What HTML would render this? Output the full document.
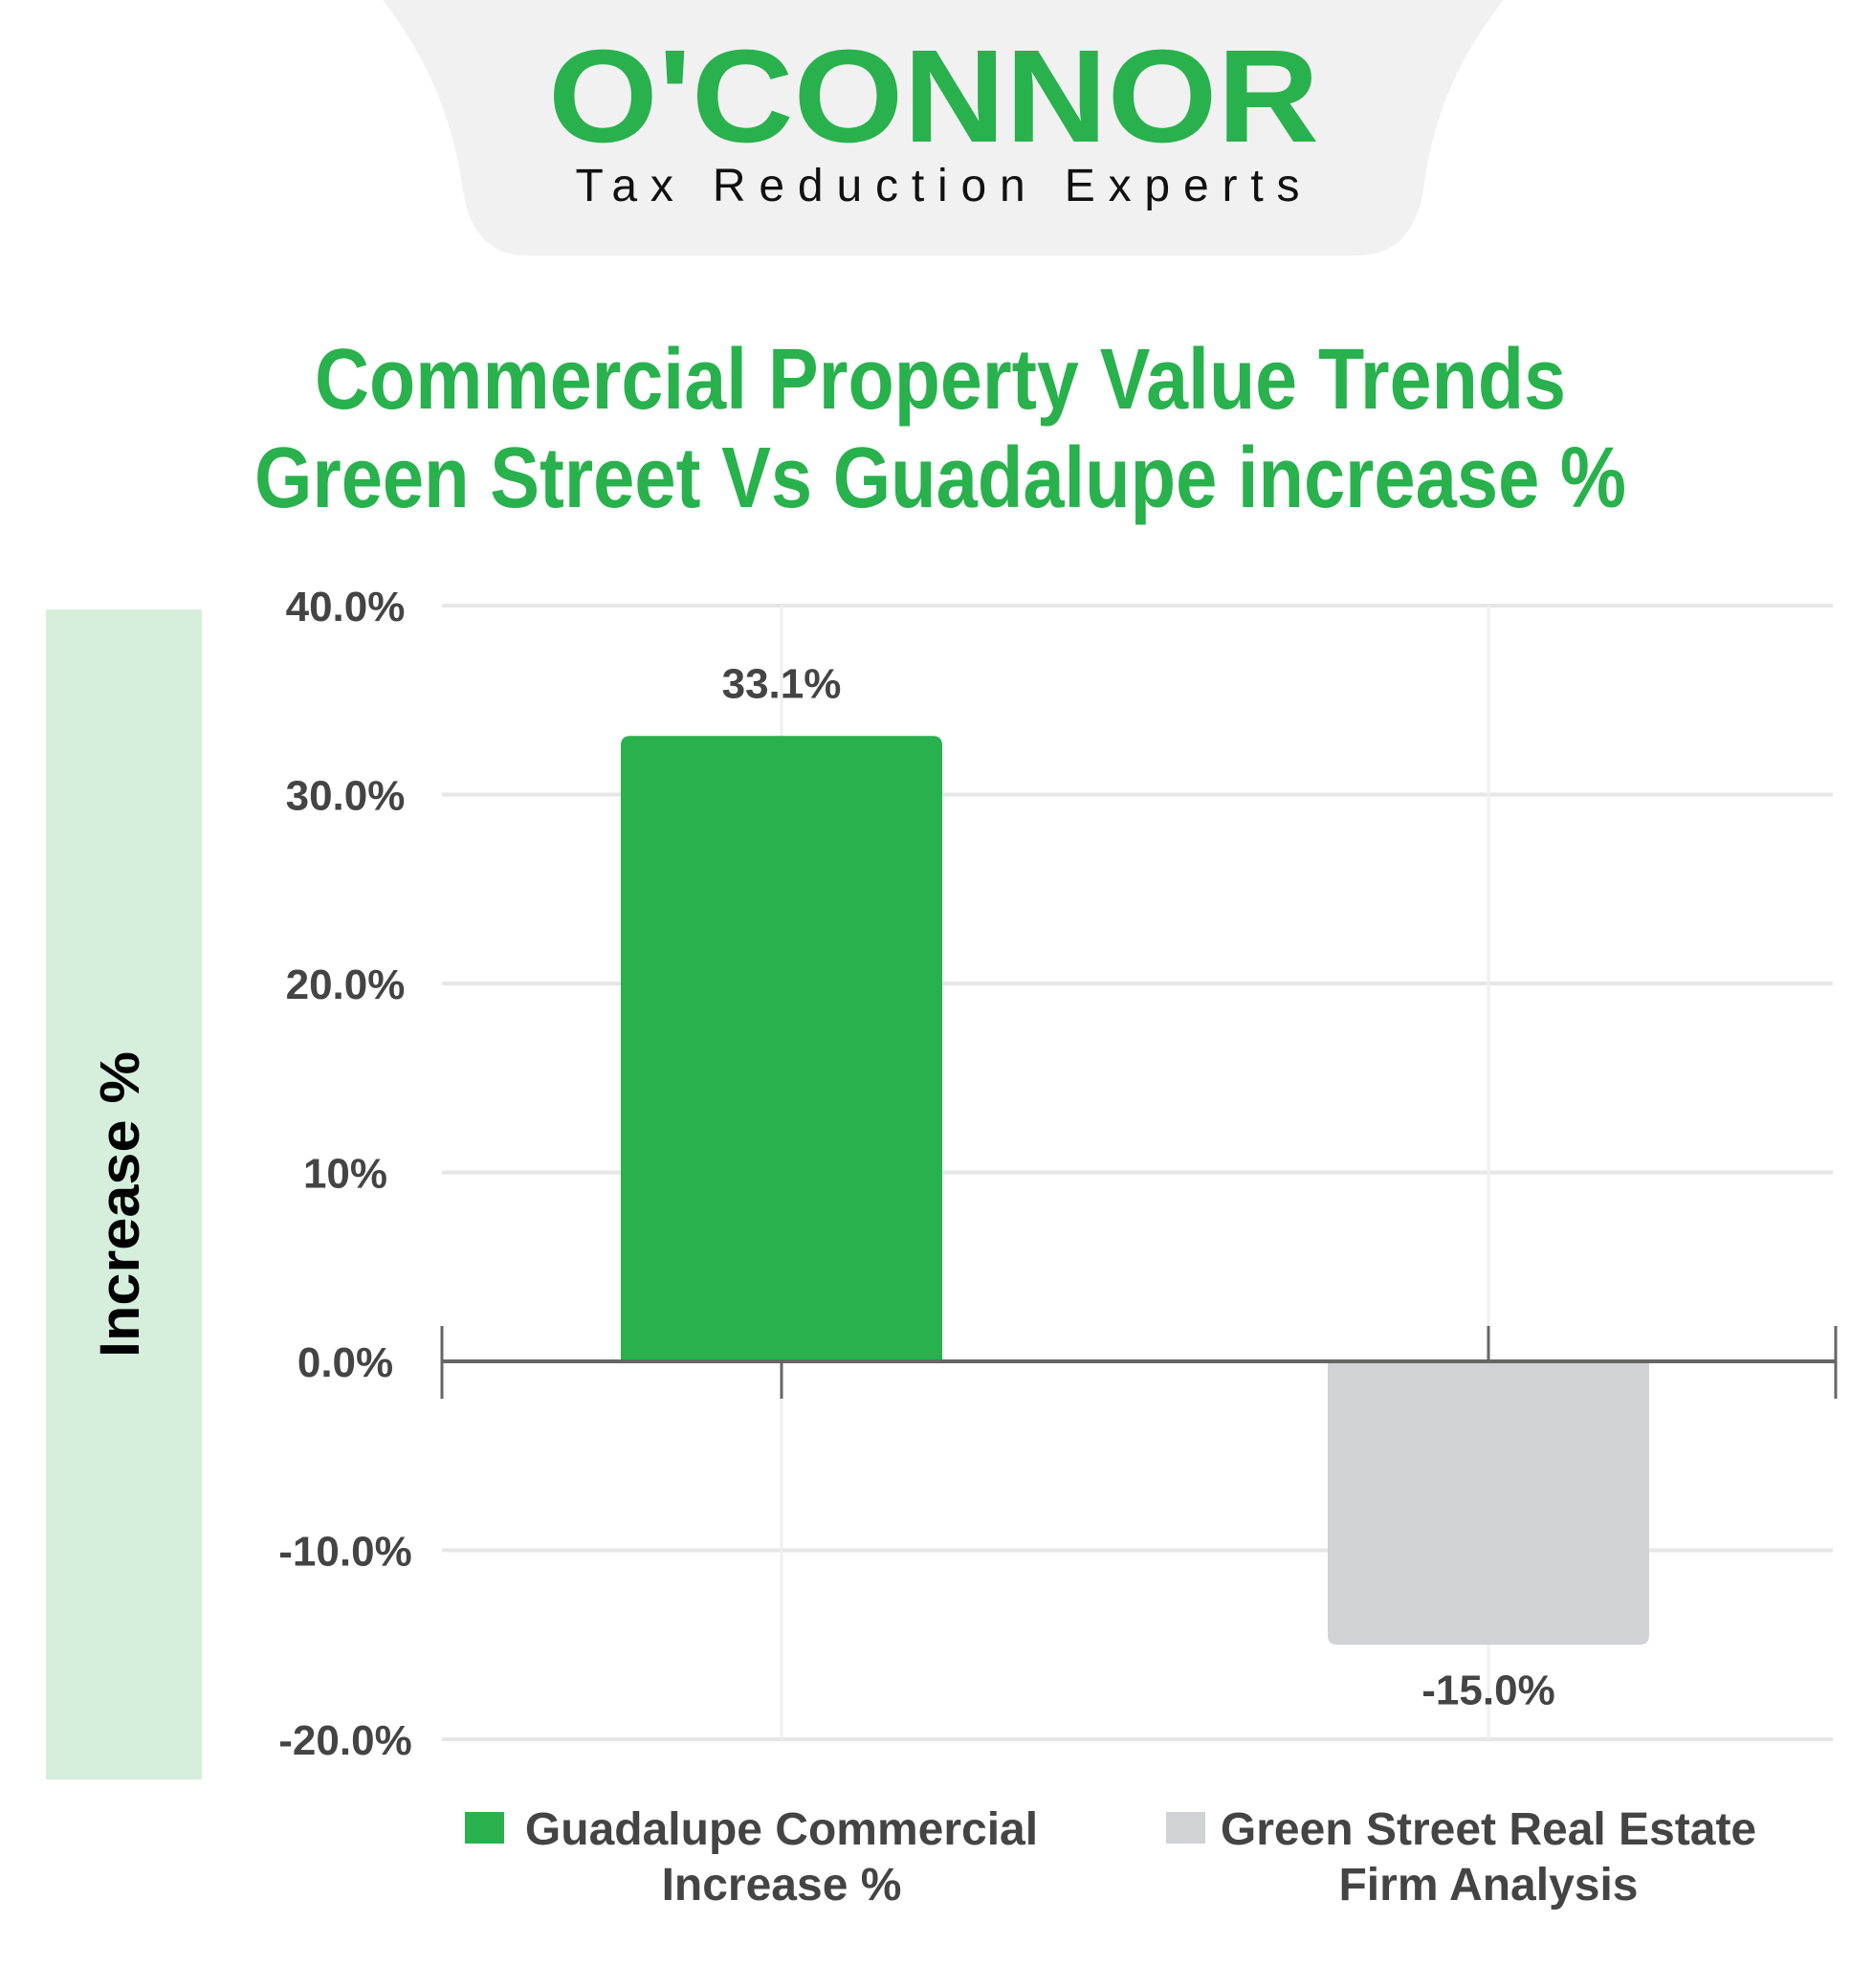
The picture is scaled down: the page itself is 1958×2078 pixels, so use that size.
<!DOCTYPE html>
<html><head><meta charset="utf-8"><style>
html,body{margin:0;padding:0;background:#fff;}
svg{display:block;}
text{font-family:"Liberation Sans",sans-serif;}
</style></head><body>
<svg id="chart" width="1958" height="2078" viewBox="0 0 1958 2078" xmlns="http://www.w3.org/2000/svg">
  <path d="M400 0 L1572 0 Q1500 90 1488 200 Q1475 267 1420 267 L550 267 Q495 267 484 200 Q470 90 400 0 Z" fill="#f1f1f1"/>
  <text x="976" y="148" text-anchor="middle" font-size="138" font-weight="bold" fill="#28b14c" textLength="806" lengthAdjust="spacingAndGlyphs">O'CONNOR</text>
  <text x="980" y="210" text-anchor="middle" font-size="48" fill="#111" textLength="757" lengthAdjust="spacing">Tax Reduction Experts</text>
  <text x="983" y="427" text-anchor="middle" font-size="90" font-weight="bold" fill="#28b14c" textLength="1308" lengthAdjust="spacingAndGlyphs">Commercial Property Value Trends</text>
  <text x="983" y="530" text-anchor="middle" font-size="90" font-weight="bold" fill="#28b14c" textLength="1434" lengthAdjust="spacingAndGlyphs">Green Street Vs Guadalupe increase %</text>
  <rect x="48" y="637" width="163" height="1223" fill="#d5efdc"/>
  <text transform="translate(145,1259) rotate(-90)" text-anchor="middle" font-size="58" font-weight="bold" fill="#000" textLength="320" lengthAdjust="spacingAndGlyphs">Increase %</text>
  <g id="grid"></g>
  <g id="bars"></g>
  <g id="axis"></g>
  <g id="legend"></g>
</svg>
<script>
const categories = ["Guadalupe Commercial Increase %", "Green Street Real Estate Firm Analysis"];
const values = [33.1, -15.0];
const valueLabels = ["33.1%", "-15.0%"];
const tickValues = [40, 30, 20, 10, 0, -10, -20];
const tickLabels = ["40.0%", "30.0%", "20.0%", "10%", "0.0%", "-10.0%", "-20.0%"];
const legendLines = [["Guadalupe Commercial", "Increase %"], ["Green Street Real Estate", "Firm Analysis"]];

const NS = "http://www.w3.org/2000/svg";
const y = v => 1423 - v * 19.75;
const xc = i => 817 + i * 739;
const barW = 336;
const colors = ["#28b14c", "#d1d2d4"];
function mk(tag, attrs, parent){const e=document.createElementNS(NS,tag);for(const k in attrs)e.setAttribute(k,attrs[k]);parent.appendChild(e);return e;}
const grid=document.getElementById('grid'), bars=document.getElementById('bars'), axis=document.getElementById('axis'), legend=document.getElementById('legend');

tickValues.forEach((v,i)=>{
  if(v!==0){
    const l=mk('line',{x1:462,x2:1916,y1:y(v),y2:y(v),stroke:'#e6e6e6','stroke-width':4},grid);
    
    
  }
  const t=mk('text',{x:361,y:y(v)+16,'text-anchor':'middle','font-size':44,'font-weight':'bold',fill:'#444'},grid);
  
  
  t.textContent=tickLabels[i];
});
categories.forEach((c,i)=>{
  const l=mk('line',{x1:xc(i),x2:xc(i),y1:y(40),y2:y(-20),stroke:'#efefef','stroke-width':3},grid);
  
  
});
values.forEach((v,i)=>{
  const top=Math.min(y(v),y(0)), h=Math.abs(y(v)-y(0)), r=10;
  const x0=xc(i)-barW/2, x1=x0+barW;
  let d;
  if(v>=0) d=`M${x0} ${y(0)} V${top+r} Q${x0} ${top} ${x0+r} ${top} H${x1-r} Q${x1} ${top} ${x1} ${top+r} V${y(0)} Z`;
  else { const b=top+h; d=`M${x0} ${top} V${b-r} Q${x0} ${b} ${x0+r} ${b} H${x1-r} Q${x1} ${b} ${x1} ${b-r} V${top} Z`; }
  const p=mk('path',{d:d,fill:colors[i]},bars);
  
  
  const ly = v>=0 ? y(v)-40 : y(v)+62;
  const t=mk('text',{x:xc(i),y:ly,'text-anchor':'middle','font-size':44,'font-weight':'bold',fill:'#444'},bars);
  
  
  t.textContent=valueLabels[i];
});
const al=mk('line',{x1:462,x2:1919,y1:y(0),y2:y(0),stroke:'#666','stroke-width':4},axis);


[[462,-37,39],[xc(0),0,39],[xc(1),-37,0],[1919,-37,39]].forEach(t=>{
  const l=mk('line',{x1:t[0],x2:t[0],y1:y(0)+t[1],y2:y(0)+t[2],stroke:'#666','stroke-width':3},axis);
  
  
});
legendLines.forEach((lines,i)=>{
  const sx=[486,1219][i];
  const r=mk('rect',{x:sx,y:1894,width:41,height:33,fill:colors[i]},legend);
  
  
  lines.forEach((s,j)=>{
    const t=mk('text',{x:xc(i),y:1928+j*58,'text-anchor':'middle','font-size':48,'font-weight':'bold',fill:'#444'},legend);
    
    
    t.textContent=s;
  });
});
</script>
</body></html>
